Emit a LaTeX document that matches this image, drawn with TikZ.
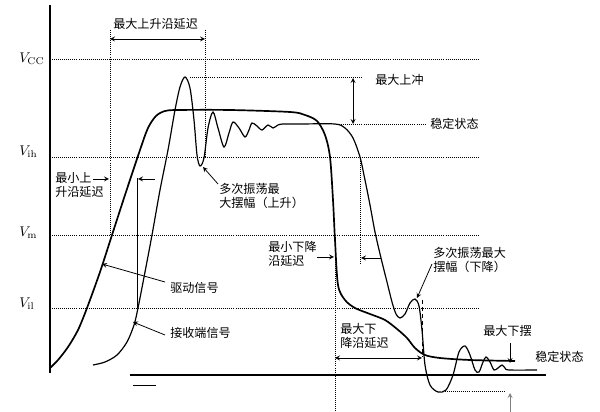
\documentclass[tikz,border=0pt]{standalone}
\usepackage{fontspec}
\usepackage{amsmath}
\newfontfamily\cjk{Noto Sans CJK SC}

\tikzset{
  txt/.style={font=\cjk\fontsize{8.6}{10.5}\selectfont, inner sep=0pt, align=left, anchor=west},
  vlbl/.style={font=\fontsize{10}{12}\selectfont, inner sep=0pt, anchor=west},
  guide/.style={densely dotted, line width=0.45pt},
  ptr/.style={->, >=stealth, line width=0.55pt},
  span/.style={<->, >=stealth, line width=0.55pt},
}

\begin{document}
\begin{tikzpicture}[x=0.025cm, y=-0.025cm]
  \useasboundingbox (0,0) rectangle (600,412);

  % axis and base line
  \draw[line width=1.1pt] (50,5) -- (50,373);
  \draw[line width=1.2pt] (130,375) -- (546,375);
  \draw[line width=0.7pt] (133,385) -- (156,385);

  % voltage levels
  \node[vlbl] (vcc) at (19,59) {$V_{\mathrm{CC}}$};
  \node[vlbl] (vih) at (19,152) {$V_{\mathrm{ih}}$};
  \node[vlbl] (vm) at (19,233) {$V_{\mathrm{m}}$};
  \node[vlbl] (vil) at (19,304) {$V_{\mathrm{il}}$};
  \draw[guide] (52,59) -- (480,59);
  \draw[guide] (52,157) -- (480,157);
  \draw[guide] (52,235) -- (480,235);
  \draw[guide] (52,308) -- (480,308);
  \draw[guide] (190,77) -- (362,77);
  \draw[guide] (337,124) -- (425,124);
  \draw[guide] (445,391) -- (505,391);
  \draw[guide] (110,30) -- (110,235);
  \draw[guide] (205,30) -- (205,157);
  \draw[guide] (360,157) -- (360,265);
  \draw[guide] (335,235) -- (335,412);
  \draw[densely dashed, line width=0.5pt] (422,300) -- (422,357);

  % driver signal
  \draw[line width=1.2pt] plot[smooth, tension=0.5] coordinates {
    (50,368) (58,360) (68,347) (78,330) (87,308) (100,272) (112,235)
    (125,195) (140,150) (148,128) (156,116) (165,111) (178,110) (230,110)
    (290,112) (305,115) (317,121) (325,135) (330,157) (333,200) (335,240)
    (338,285) (345,300) (355,308) (370,314) (385,320) (397,329) (407,338)
    (415,348) (425,355) (440,358) (470,360) (515,361)};

  % receiver signal
  \draw[line width=0.85pt] plot[smooth, tension=0.5] coordinates {
    (93,365) (105,362) (117,355) (127,342) (134,325) (138,308) (145,272)
    (152,235) (160,190) (168,150) (175,110) (180,87) (185,77) (190,88)
    (194,120) (197,155) (200,166) (204,158) (208,128) (213,112) (218,128)
    (224,147) (229,133) (233,122) (239,128) (245,137) (249,130) (252,123)
    (257,126) (262,130) (268,125) (273,128) (278,125) (283,124) (300,124)
    (335,124) (345,128) (353,138) (360,157) (365,180) (370,205) (375,232)
    (381,258) (387,282) (392,302) (396,314) (400,318) (405,314) (410,303)
    (415,299) (419,306) (422,330) (425,365) (430,385) (438,392) (446,390)
    (453,375) (459,352) (465,346) (470,355) (475,370) (479,372) (483,362)
    (486,357) (490,362) (494,370) (498,368) (502,365) (505,368) (509,370)
    (537,370)};

  % rise delays
  \node[txt] (maxrise) at (113,24) {最大上升沿延迟};
  \coordinate (r1) at (110,39);
  \coordinate (r2) at (205,39);
  \draw[span] (r1) -- (r2);
  \node[txt] (minrise) at (55,185) {最小上\\升沿延迟};
  \coordinate (m1) at (109,179);
  \coordinate (m2) at (138,179);
  \coordinate (m3) at (155,179);
  \draw[ptr] (93,179) -- (m1);
  \draw[ptr] (m3) -- (m2);
  \draw[line width=0.6pt] (137,178) -- (137,308);

  % overshoot
  \node[txt] (maxover) at (375,80) {最大上冲};
  \coordinate (o1) at (353,78);
  \coordinate (o2) at (353,124);
  \draw[span] (o1) -- (o2);
  \node[txt] (steady1) at (430,124) {稳定状态};

  % ringing on the rise
  \node[txt] (ringup) at (219,196) {多次振荡最\\大摆幅（上升）};
  \coordinate (t1) at (203,167);
  \draw[ptr] (218,184) -- (t1);

  % signal names
  \node[txt] (drv) at (170,288) {驱动信号};
  \coordinate (d1) at (102,264);
  \draw[ptr] (drv.west) ++(-5,-6) -- (d1);
  \node[txt] (rcv) at (170,333) {接收端信号};
  \coordinate (c1) at (133,322);
  \draw[ptr] (rcv.west) ++(-5,2) -- (c1);

  % fall delays
  \node[txt] (minfall) at (268,254) {最小下降\\沿延迟};
  \coordinate (f1) at (334,257);
  \coordinate (f2) at (361,258);
  \draw[ptr] (317,257) -- (f1);
  \draw[ptr] (381,258) -- (f2);
  \node[txt] (maxfall) at (340,336) {最大下\\降沿延迟};
  \coordinate (g1) at (335,358);
  \coordinate (g2) at (422,358);
  \draw[span] (g1) -- (g2);

  % ringing on the fall
  \node[txt] (ringdn) at (433,260) {多次振荡最大\\摆幅（下降）};
  \coordinate (p1) at (417,298);
  \draw[ptr] (432,264) -- (p1);

  % undershoot
  \node[txt] (maxunder) at (483,331) {最大下摆};
  \coordinate (u1) at (510,343);
  \coordinate (u2) at (510,363);
  \draw[ptr] (u1) -- (u2);
  \coordinate (u3) at (510,412);
  \coordinate (u4) at (510,393);
  \draw[ptr, gray] (u3) -- (u4);
  \node[txt] (steady2) at (535,357) {稳定状态};
\end{tikzpicture}
\end{document}
